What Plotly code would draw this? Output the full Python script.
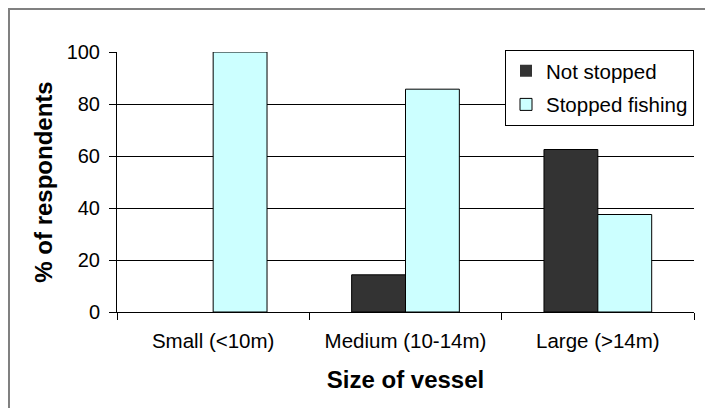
import plotly.graph_objects as go

categories = ["Small (<10m)", "Medium (10-14m)", "Large (>14m)"]
not_stopped = [0, 14.3, 62.5]
stopped_fishing = [100, 85.7, 37.5]

FONT = "Liberation Sans, Arial, sans-serif"

fig = go.Figure()
fig.add_trace(go.Bar(x=categories, y=not_stopped, name="Not stopped", legendgroup="a",
                     marker=dict(color="#333333",
                                 line=dict(color="black", width=[0 if v == 0 else 1 for v in not_stopped]))))
fig.add_trace(go.Bar(x=categories, y=stopped_fishing, name="Stopped fishing", legendgroup="b",
                     marker=dict(color="#CCFFFF", line=dict(color="black", width=1))))

# page body adds an 8px offset, so margins are shifted to compensate
fig.update_layout(
    width=713, height=408,
    margin=dict(l=109, r=27, t=44, b=104),
    paper_bgcolor="white", plot_bgcolor="white",
    font=dict(family=FONT, size=20, color="black"),
    barmode="group", bargap=0.44, bargroupgap=0,
    legend=dict(x=1.0, y=1.008, xanchor="right", yanchor="top",
                bgcolor="white", bordercolor="black", borderwidth=1,
                font=dict(size=20.5), tracegroupgap=4, itemwidth=30),
    shapes=[dict(type="rect", xref="paper", yref="paper",
                 x0=-0.1872, x1=1.2, y0=-0.5, y1=1.1654,
                 line=dict(color="#808080", width=2))],
)
fig.update_xaxes(
    showline=True, linecolor="black", linewidth=1,
    ticks="outside", tickson="boundaries", ticklen=7, tickcolor="black",
    tickfont=dict(size=20.5), ticklabelstandoff=10,
    title=dict(text="<b>Size of vessel</b>", font=dict(size=24), standoff=20),
)
fig.update_yaxes(
    range=[0, 100], dtick=20,
    showline=True, linecolor="black", linewidth=1,
    showgrid=True, gridcolor="black", gridwidth=1,
    ticks="outside", ticklen=7, tickcolor="black",
    tickfont=dict(size=20), ticklabelstandoff=5,
    title=dict(text="<b>% of respondents</b>", font=dict(size=24), standoff=7),
    zeroline=False,
)

fig.write_html("out.html")
